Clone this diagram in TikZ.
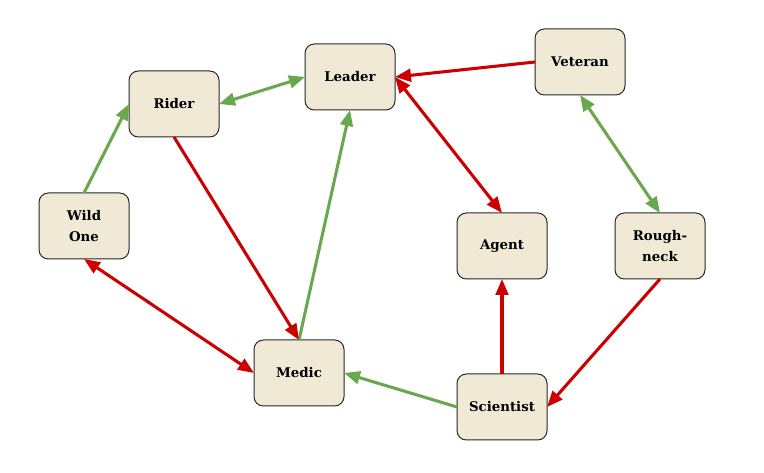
\documentclass[tikz,border=0pt]{standalone}
\usepackage{fontspec}
\setmainfont{DejaVu Serif}
\usepackage{tikz}
\usepackage{xcolor}
\usetikzlibrary{arrows.meta}

\definecolor{boxfill}{HTML}{F0E9D6}
\definecolor{posgreen}{HTML}{6AA84F}
\definecolor{negred}{HTML}{CC0000}

\begin{document}
\begin{tikzpicture}[
          x=0.75pt, y=-0.75pt,
          >={Triangle[length=12pt, width=9.5pt]},
          box/.style={draw=black!85, line width=0.75pt, fill=boxfill, rounded corners=7pt,
                      minimum width=67.5pt, minimum height=49.5pt, inner sep=2pt, outer sep=0pt,
                      align=center, font=\fontsize{10}{15.5}\selectfont\bfseries},
          arr1/.style={line width=2.3pt, color=posgreen},
          arr2/.style={line width=2.3pt, color=negred}
      ]
        \useasboundingbox (0,0) rectangle (764,473);
        \node[box] (leader) at (350,77) {Leader};
        \node[box] (veteran) at (580,62) {Veteran};
        \node[box] (rider) at (174,104) {Rider};
        \node[box] (wild) at (84,226) {Wild\\One};
        \node[box] (agent) at (502,246) {Agent};
        \node[box] (rough) at (660,246) {Rough-\\neck};
        \node[box] (medic) at (299,373) {Medic};
        \node[box] (sci) at (502,407) {Scientist};
        % green links
        \draw[arr1, <->] (rider.east) -- (leader.west);
        \draw[arr1, ->] (wild.north) -- (rider.west);
        \draw[arr1, ->] (medic.north) -- (leader.south);
        \draw[arr1, <->] (veteran.south) -- (rough.north);
        \draw[arr1, ->] (sci.west) -- (medic.east);
        % red links
        \draw[arr2, ->] (veteran.west) -- (leader.east);
        \draw[arr2, <->] (leader.east) -- (agent.north);
        \draw[arr2, ->] (rider.south) -- (medic.north);
        \draw[arr2, <->] (wild.south) -- (medic.west);
        \draw[arr2, ->] (sci.north) -- (agent.south);
        \draw[arr2, ->] (rough.south) -- (sci.east);
      \end{tikzpicture}
\end{document}
